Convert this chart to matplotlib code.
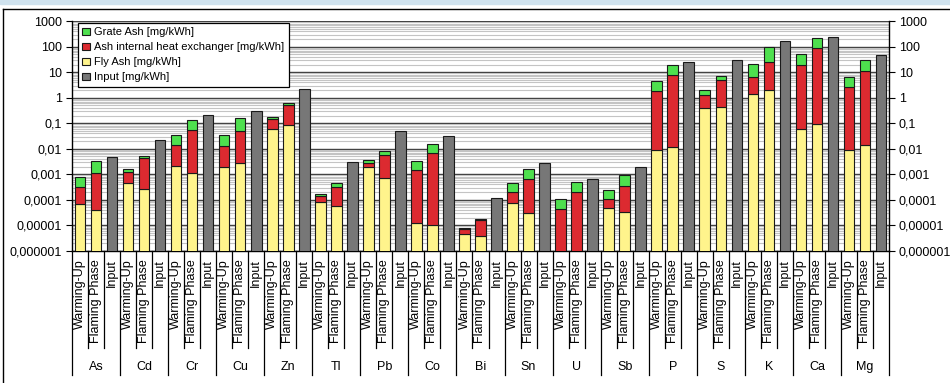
import numpy as np
import matplotlib.pyplot as plt
import matplotlib.transforms as mtransforms
from matplotlib.ticker import FixedLocator, FixedFormatter, LogLocator, NullFormatter

plt.rcParams['font.family'] = ['Liberation Sans', 'DejaVu Sans']

elements = ['As', 'Cd', 'Cr', 'Cu', 'Zn', 'Tl', 'Pb', 'Co', 'Bi', 'Sn', 'U', 'Sb',
            'P', 'S', 'K', 'Ca', 'Mg']
phases = ['Warming-Up', 'Flaming Phase', 'Input']

# mg/kWh, warming-up phase
fly_wu = [6.8e-5, 4.4e-4, 2.1e-3, 1.9e-3, 0.059, 8.3e-5, 1.9e-3, 1.25e-5, 4.4e-6,
          7.4e-5, 0, 4.6e-5, 8.7e-3, 0.39, 1.35, 0.059, 0.0092]
hx_wu = [2.4e-4, 8.1e-4, 1.2e-2, 1.1e-2, 0.091, 5.7e-5, 9e-4, 1.39e-3, 2.5e-6,
         1.36e-4, 4.4e-5, 6.4e-5, 1.79, 0.91, 4.95, 18.9, 2.69]
grate_wu = [4.5e-4, 3.5e-4, 1.9e-2, 2.2e-2, 0.03, 3e-5, 8e-4, 2.0e-3, 1.1e-6,
            2.3e-4, 6.3e-5, 1.3e-4, 2.7, 0.7, 14.7, 31, 4.1]
# mg/kWh, flaming phase
fly_fp = [4.1e-5, 2.6e-4, 1.15e-3, 2.8e-3, 0.085, 5.5e-5, 6.9e-4, 1.0e-5, 3.8e-6,
          2.9e-5, 0, 3.3e-5, 0.012, 0.44, 2.1, 0.094, 0.0135]
hx_fp = [1.06e-3, 4.0e-3, 5.3e-2, 4.9e-2, 0.425, 2.65e-4, 5.2e-3, 6.5e-3, 1.22e-5,
         6.0e-4, 1.97e-4, 3.2e-4, 7.9, 4.46, 22.4, 86.9, 11.5]
grate_fp = [2.2e-3, 1.0e-3, 8.6e-2, 0.108, 0.14, 1.5e-4, 2.4e-3, 9.5e-3, 2e-6,
            9.7e-4, 2.8e-4, 6.1e-4, 11, 2.5, 70.5, 141, 18.5]
# mg/kWh, fuel input
input_vals = [4.7e-3, 2.2e-2, 0.22, 0.31, 2.3, 3.1e-3, 5.1e-2, 3.1e-2, 1.2e-4,
              2.8e-3, 6.3e-4, 2.0e-3, 26, 29, 163, 250, 48]

ytick_vals = [1e-6, 1e-5, 1e-4, 1e-3, 1e-2, 1e-1, 1, 10, 100, 1000]
ytick_labels = ['0,000001', '0,00001', '0,0001', '0,001', '0,01', '0,1',
                '1', '10', '100', '1000']

c_fly = '#fff48c'
c_hx = '#dc2a30'
c_grate = '#4ee04e'
c_inp = '#777777'

n = len(elements)
x_wu = np.arange(n) * 3
x_fp = x_wu + 1
x_in = x_wu + 2
base = 1e-8
w = 0.66
ek = dict(edgecolor='#1a1a1a', linewidth=0.8, zorder=3)

fig = plt.figure(figsize=(9.5, 3.83), dpi=100)
ax = fig.add_axes([72 / 950, 1 - 250.7 / 383, 817 / 950, 229.4 / 383])

for xs, fly, hx, gr in [(x_wu, fly_wu, hx_wu, grate_wu), (x_fp, fly_fp, hx_fp, grate_fp)]:
    fly = np.array(fly) + base
    hx = np.array(hx)
    gr = np.array(gr)
    b1 = ax.bar(xs, fly - base, w, bottom=base, color=c_fly, **ek)
    b2 = ax.bar(xs, hx, w, bottom=fly, color=c_hx, **ek)
    b3 = ax.bar(xs, gr, w, bottom=fly + hx, color=c_grate, **ek)
b4 = ax.bar(x_in, np.array(input_vals) - base, w, bottom=base, color=c_inp, **ek)

ax.set_yscale('log')
ax.set_ylim(1e-6, 1000)
ax.set_xlim(-0.5, 3 * n - 0.5)
ax.yaxis.set_major_locator(FixedLocator(ytick_vals))
ax.yaxis.set_major_formatter(FixedFormatter(ytick_labels))
ax.yaxis.set_minor_locator(LogLocator(base=10, subs=np.arange(2, 10), numticks=20))
ax.yaxis.set_minor_formatter(NullFormatter())
ax.tick_params(axis='y', which='major', labelsize=9, length=4, width=0.8,
               right=True, labelright=True, direction='out', pad=3)
ax.tick_params(axis='y', which='minor', length=0, right=True)
ax.set_xticks([])
ax.grid(which='minor', axis='y', color='#c4c4c4', linewidth=0.8, zorder=0)
ax.grid(which='major', axis='y', color='#3c3c3c', linewidth=1.0, zorder=0)
ax.set_axisbelow(True)
for s in ['left', 'right', 'bottom']:
    ax.spines[s].set_color('black')
    ax.spines[s].set_linewidth(1.0)
ax.spines['top'].set_visible(False)

# category labels below the axis
trans = mtransforms.blended_transform_factory(ax.transData, ax.transAxes)
for i in range(3 * n + 1):
    x = i - 0.5
    y1 = -0.542 if i % 3 == 0 else -0.424
    ax.plot([x, x], [0, y1], color='black', lw=0.9, transform=trans, clip_on=False)
for i in range(n):
    for j, lab in enumerate(phases):
        ax.text(3 * i + j, -0.036, lab, rotation=90, ha='center', va='top',
                fontsize=9, transform=trans)
    ax.text(3 * i + 1, -0.507, elements[i], ha='center', va='center',
            fontsize=9, transform=trans)

leg = ax.legend([b3, b2, b1, b4],
                ['Grate Ash [mg/kWh]', 'Ash internal heat exchanger [mg/kWh]',
                 'Fly Ash [mg/kWh]', 'Input [mg/kWh]'],
                loc='upper left', bbox_to_anchor=(0.007, 0.993), borderaxespad=0,
                fontsize=8, fancybox=False, framealpha=1, edgecolor='black',
                handlelength=0.7, handleheight=0.7, handletextpad=0.4,
                labelspacing=0.45, borderpad=0.4)
leg.get_frame().set_linewidth(0.9)
leg.set_zorder(5)

# outer chart frame
fig.patches.append(plt.Rectangle((0, 1 - 4 / 383), 1, 4 / 383, transform=fig.transFigure,
                                 color='#cfe2ee', zorder=0))
fig.add_artist(plt.Line2D([3 / 950, 3 / 950], [0, 1 - 9 / 383], color='black', lw=1))
fig.add_artist(plt.Line2D([3 / 950, 1], [1 - 9 / 383, 1 - 9 / 383], color='black', lw=1))

fig.savefig('out.png', dpi=100)
